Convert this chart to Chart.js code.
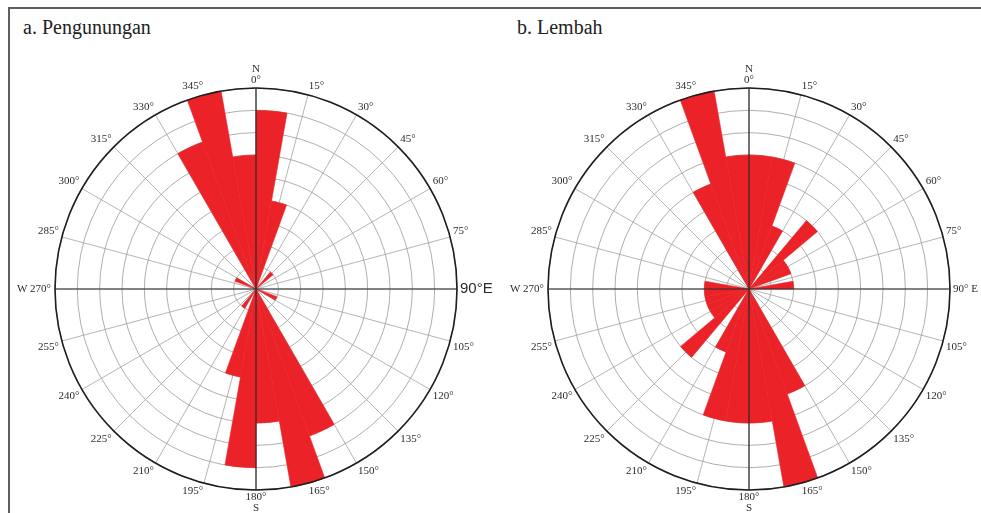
<!DOCTYPE html>
<html lang="id">
<head>
<meta charset="UTF-8">
<title>Diagram mawar arah: Pengunungan dan Lembah</title>
<script src="https://cdn.jsdelivr.net/npm/chart.js"></script>
<style>
  html, body { margin:0; padding:0; background:#fff; overflow:hidden; }
  body { width:981px; height:513px; position:relative; font-family:"Liberation Serif", "Times New Roman", serif; }
  #bingkai { position:absolute; left:8px; top:7px; width:1000px; height:600px; border-top:2px solid #5e5e5e; border-left:2px solid #5e5e5e; }
  .judul { position:absolute; top:17px; font-size:20px; line-height:20px; color:#222; white-space:nowrap; }
  canvas { position:absolute; }
</style>
</head>
<body>
<div id="bingkai"></div>
<div class="judul" style="left:23px">a. Pengunungan</div>
<div class="judul" style="left:517px">b. Lembah</div>
<canvas id="aBawah" width="560" height="450" style="left:-24px;top:64px"></canvas>
<canvas id="aAtas" width="560" height="450" style="left:-24px;top:64px"></canvas>
<canvas id="bBawah" width="560" height="450" style="left:469px;top:64px"></canvas>
<canvas id="bAtas" width="560" height="450" style="left:469px;top:64px"></canvas>

<script>
  // kelas arah 10°, dari utara searah jarum jam
  const kelasArah = [
    '0–10°','10–20°','20–30°','30–40°','40–50°','50–60°','60–70°','70–80°','80–90°',
    '90–100°','100–110°','110–120°','120–130°','130–140°','140–150°','150–160°','160–170°','170–180°',
    '180–190°','190–200°','200–210°','210–220°','220–230°','230–240°','240–250°','250–260°','260–270°',
    '270–280°','280–290°','290–300°','300–310°','310–320°','320–330°','330–340°','340–350°','350–360°'
  ];

  // jumlah data per kelas (dibaca dari lingkaran grid)
  const pengunungan = [8,4,0,0,1,0,0,0,0, 0,0,1,0,0,0,7,9,6, 8,4,0,1,0,0,0,0,0, 0,0,1,0,0,0,7,9,6];
  const lembah      = [6,6,3,0,4,2,2,0,2, 0,0,0,0,0,0,5,9,6, 6,6,3,0,4,2,2,2,2, 2,0,0,0,0,0,5,9,6];

  // label sudut tiap 15°
  const labelArahA = [['N','0°'],'15°','30°','45°','60°','75°','90°E','105°','120°','135°','150°','165°',
    ['180°','S'],'195°','210°','225°','240°','255°','W 270°','285°','300°','315°','330°','345°'];
  const labelArahB = [['N','0°'],'15°','30°','45°','60°','75°','90° E','105°','120°','135°','150°','165°',
    ['180°','S'],'195°','210°','225°','240°','255°','W 270°','285°','300°','315°','330°','345°'];

  const skalaMaks = 9;
  const merah = '#eb2329';

  function fontLabel(ctx, timurBesar) {
    if (timurBesar && ctx.index === 6) {
      return { family: '"Liberation Sans", Arial, sans-serif', size: 15, lineHeight: 1 };
    }
    return { family: '"Liberation Serif", "Times New Roman", serif', size: 11, lineHeight: 1 };
  }
  function padLabel(ctx) {
    if (ctx.index === 0 || ctx.index === 12) return 2;
    if (ctx.index === 18) return 4;
    return 3;
  }

  // lapisan bawah: grid + kelopak, lapisan atas: sumbu N-S/W-E, lingkaran luar, label
  function buatMawar(id, nilai, labelArah, timurBesar, atas) {
    const utama = ctx => ctx.index % 6 === 0;
    return new Chart(document.getElementById(id), {
      type: 'polarArea',
      data: {
        labels: kelasArah,
        datasets: [{
          data: nilai,
          backgroundColor: atas ? 'transparent' : merah,
          borderColor: atas ? 'transparent' : merah,
          borderWidth: atas ? 0 : 0.6
        }]
      },
      options: {
        responsive: false,
        animation: false,
        plugins: { legend: { display: false }, tooltip: { enabled: false } },
        scales: {
          r: {
            min: 0,
            max: skalaMaks,
            startAngle: 0,
            labels: labelArah,
            ticks: { display: false, stepSize: 1 },
            grid: {
              circular: true,
              color: ctx => atas ? (ctx.index === skalaMaks ? '#1e1e1e' : 'transparent') : '#999',
              lineWidth: ctx => atas ? (ctx.index === skalaMaks ? 1.6 : 0) : 0.8
            },
            angleLines: {
              display: true,
              color: ctx => atas ? (utama(ctx) ? '#2a2a2a' : 'transparent') : '#a2a2a2',
              lineWidth: ctx => atas ? (utama(ctx) ? 1.2 : 0) : 0.8
            },
            pointLabels: {
              display: true,
              color: atas ? '#2b2b2b' : 'transparent',
              font: ctx => fontLabel(ctx, timurBesar),
              padding: padLabel
            }
          }
        }
      }
    });
  }

  buatMawar('aBawah', pengunungan, labelArahA, true, false);
  buatMawar('aAtas', pengunungan, labelArahA, true, true);
  buatMawar('bBawah', lembah, labelArahB, false, false);
  buatMawar('bAtas', lembah, labelArahB, false, true);
</script>
</body>
</html>
